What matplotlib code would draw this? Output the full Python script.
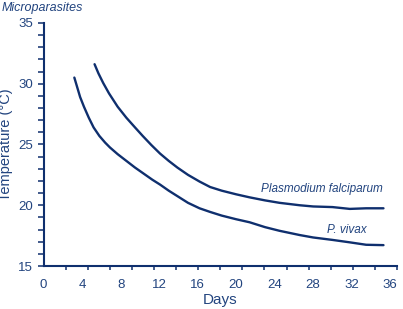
import matplotlib.pyplot as plt
import numpy as np
from matplotlib.ticker import MultipleLocator, FixedLocator

plt.rcParams['font.family'] = ['Liberation Sans', 'DejaVu Sans']

navy = '#0f2f6e'
txt = '#22447f'

# values
falc_days = [5.3, 5.7, 6.2, 6.8, 7.7, 8.6, 9.5, 10.3, 11.2, 12.1, 13.0, 13.9, 15.0, 16.2, 17.3, 18.5,
             20.0, 21.4, 23.0, 24.5, 26.6, 28.0, 30.0, 31.8, 33.5, 35.3]
falc_temp = [31.6, 30.85, 30.05, 29.2, 28.1, 27.2, 26.4, 25.7, 24.95, 24.25, 23.65, 23.1, 22.5, 21.95, 21.5, 21.2,
             20.9, 20.65, 20.4, 20.2, 20.0, 19.9, 19.85, 19.7, 19.75, 19.75]

vivax_days = [3.2, 3.5, 3.8, 4.2, 4.7, 5.2, 5.8, 6.4, 6.9, 7.7, 8.6, 9.5, 10.4, 11.3, 12.1, 13.0, 14.0, 15.0,
              16.2, 17.3, 18.5, 20.0, 21.4, 23.0, 24.5, 26.6, 28.0, 30.0, 31.8, 33.5, 35.3]
vivax_temp = [30.5, 29.7, 28.9, 28.1, 27.2, 26.4, 25.7, 25.15, 24.75, 24.2, 23.65, 23.1, 22.6, 22.1, 21.7, 21.2, 20.7, 20.2,
              19.75, 19.45, 19.15, 18.85, 18.6, 18.2, 17.9, 17.55, 17.35, 17.15, 16.95, 16.75, 16.72]

xticks = [0, 4, 8, 12, 16, 20, 24, 28, 32, 36]

fig = plt.figure(figsize=(4.03, 3.09), dpi=100)
ax = fig.add_axes([0.108, 0.139, 0.877, 0.787])

ax.plot(falc_days, falc_temp, color=navy, lw=1.7, solid_capstyle='round')
ax.plot(vivax_days, vivax_temp, color=navy, lw=1.7, solid_capstyle='round')

ax.text(35.2, 21.3, 'Plasmodium falciparum', style='italic', color=txt,
        fontsize=8.5, ha='right', va='center')
ax.text(33.6, 18.0, 'P. vivax', style='italic', color=txt,
        fontsize=8.5, ha='right', va='center')

ax.set_xlim(0, 36.7)
ax.set_ylim(15, 35)

ax.set_xticks(xticks)
ax.xaxis.set_minor_locator(FixedLocator(np.linspace(0, 36.7, 17)[1:]))
ax.tick_params(axis='x', which='major', length=0, pad=9)
ax.tick_params(axis='x', which='minor', length=3, width=1.1, color=navy, direction='out')

ax.yaxis.set_major_locator(MultipleLocator(5))
ax.yaxis.set_minor_locator(MultipleLocator(1))
ax.tick_params(axis='y', which='both', length=4, width=1.1, color=navy, direction='out')
ax.tick_params(axis='both', which='major', labelsize=9.5, labelcolor=txt)

for s in ['top', 'right']:
    ax.spines[s].set_visible(False)
for s in ['left', 'bottom']:
    ax.spines[s].set_color(navy)
    ax.spines[s].set_linewidth(1.5)

ax.set_xlabel('Days', fontsize=11, color=txt, labelpad=2)
ax.set_ylabel('Temperature (°C)', fontsize=10.5, color=txt, labelpad=4)

fig.text(0.003, 0.993, 'Microparasites', style='italic', color=txt,
         fontsize=9, ha='left', va='top')

fig.savefig('out.png', dpi=100)
